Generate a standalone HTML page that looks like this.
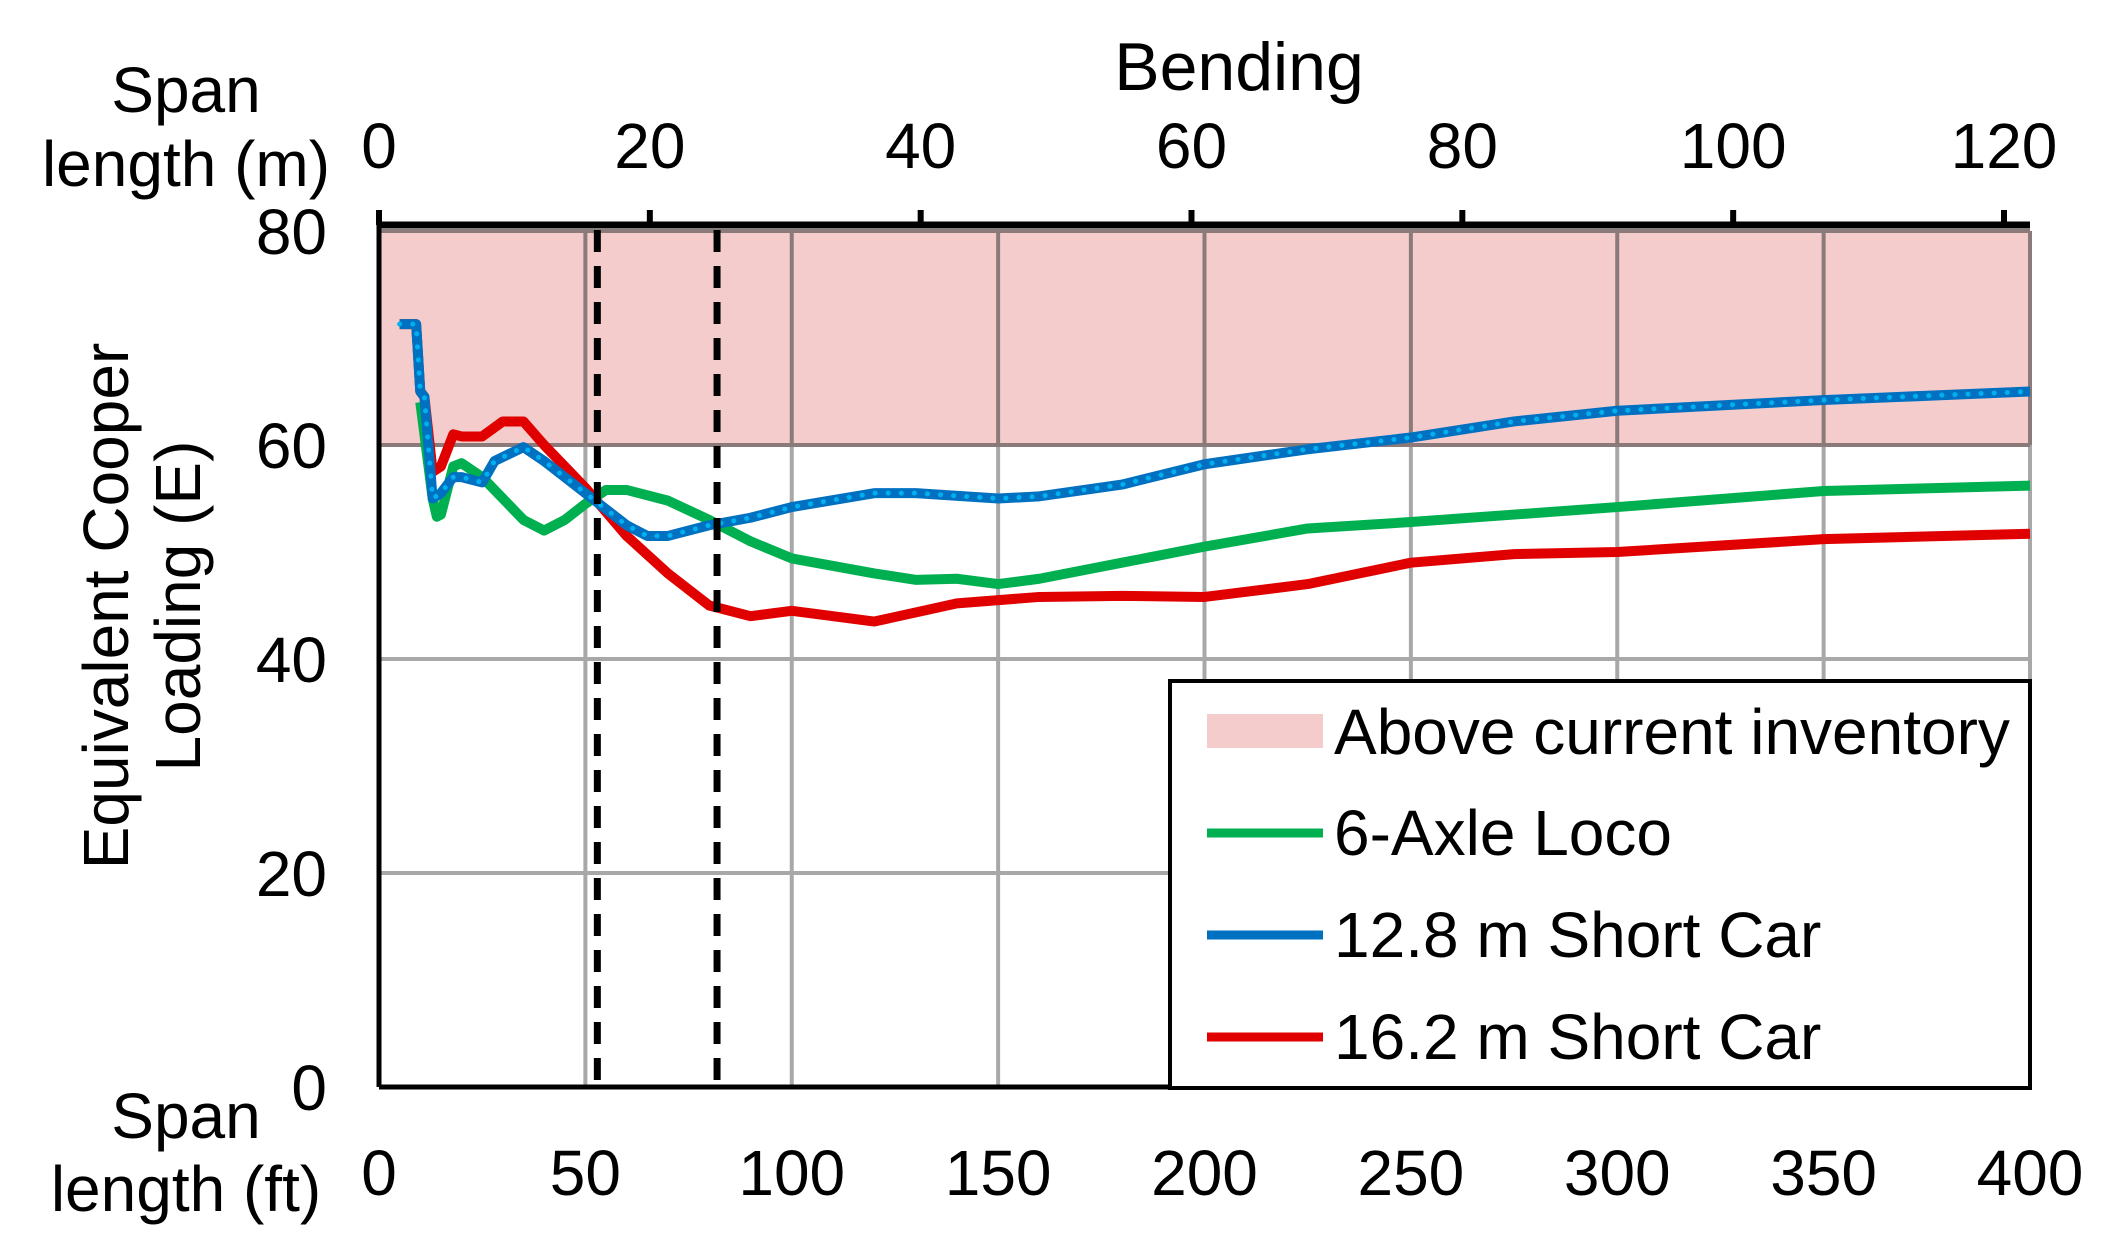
<!DOCTYPE html><html><head><meta charset="utf-8"><style>body{margin:0;background:#fff}svg{display:block}text{font-family:"Liberation Sans",sans-serif;fill:#000}</style></head><body>
<svg id="s" width="2123" height="1241" xmlns="http://www.w3.org/2000/svg"></svg>
<script>
const X=f=>379+f*4.1275, Y=v=>1087-v*10.7;
let h='';
h+=`<rect x="${X(0)}" y="${Y(80)}" width="${X(400)-X(0)}" height="${Y(60)-Y(80)}" fill="#f5cccc"/>`;
for(let f=50;f<=400;f+=50){h+=`<line x1="${X(f)}" y1="${Y(80)}" x2="${X(f)}" y2="${Y(60)}" stroke="#8a7a7a" stroke-width="4"/><line x1="${X(f)}" y1="${Y(60)}" x2="${X(f)}" y2="${Y(0)}" stroke="#a8a8a8" stroke-width="4"/>`;}
for(let v of [20,40,60,80])h+=`<line x1="${X(0)}" y1="${Y(v)}" x2="${X(400)}" y2="${Y(v)}" stroke="${v>=60?'#8a7a7a':'#a8a8a8'}" stroke-width="4"/>`;
h+=`<line x1="${X(0)}" y1="${Y(0)}" x2="${X(400)}" y2="${Y(0)}" stroke="#000" stroke-width="5"/>`;
h+=`<line x1="${X(0)}" y1="220" x2="${X(0)}" y2="${Y(0)}" stroke="#000" stroke-width="5"/>`;
h+=`<line x1="${X(0)}" y1="225" x2="${X(400)}" y2="225" stroke="#000" stroke-width="7"/>`;
for(let m=0;m<=120;m+=20){let x=X(m/0.3048);h+=`<line x1="${x}" y1="210" x2="${x}" y2="225" stroke="#000" stroke-width="6"/><text x="${x}" y="168" font-size="64" text-anchor="middle">${m}</text>`;}
for(let f=0;f<=400;f+=50)h+=`<text x="${X(f)}" y="1195" font-size="64" text-anchor="middle">${f}</text>`;
for(let v=0;v<=80;v+=20)h+=`<text x="327" y="${Y(v)+23}" font-size="64" text-anchor="end">${v}</text>`;
const P=(a,c,w,extra='')=>`<polyline points="${a.map(p=>X(p[0])+','+Y(p[1])).join(' ')}" fill="none" stroke="${c}" stroke-width="${w}" stroke-linejoin="round" ${extra}/>`;
const G=[[10,64],[13,55],[14,53.3],[15,53.5],[18,58],[20,58.3],[25,57],[30,55],[35,53],[40,52],[45,53],[50,54.5],[55,55.8],[60,55.8],[70,54.8],[80,53],[90,51],[100,49.4],[120,48],[130,47.4],[140,47.5],[150,47],[160,47.5],[180,49],[200,50.5],[225,52.2],[250,52.8],[275,53.5],[300,54.2],[350,55.7],[400,56.2]];
const st=[[5,71.3],[9,71.3],[10,65],[11,64.5]];
const R=st.concat([[13,57.5],[15,58],[18,61],[20,60.8],[25,60.8],[30,62.2],[35,62.2],[40,60],[50,56],[60,51.5],[70,48],[80,45],[90,44],[100,44.5],[120,43.5],[140,45.2],[160,45.8],[180,45.9],[200,45.8],[225,47],[250,49],[275,49.8],[300,50],[350,51.2],[400,51.7]]);
const B=st.concat([[13,55],[15,55.5],[18,57],[20,57],[25,56.5],[28,58.5],[35,59.8],[40,58.5],[50,55.5],[60,52.5],[65,51.5],[70,51.5],[80,52.5],[90,53.2],[100,54.2],[120,55.5],[130,55.5],[150,55],[160,55.2],[180,56.3],[200,58.2],[225,59.6],[250,60.7],[275,62.2],[300,63.2],[350,64.2],[400,65]]);
h+=P(G,'#00b050',10)+P(R,'#e00000',10)+P(B,'#0070c0',10)+P(B,'#00b0f0',5,'stroke-dasharray="0.1 13" stroke-linecap="round"');
for(let f of [52.9,81.9])h+=`<line x1="${X(f)}" y1="230" x2="${X(f)}" y2="${Y(0)}" stroke="#000" stroke-width="7" stroke-dasharray="22 14"/>`;
h+=`<rect x="1170" y="681" width="860" height="407" fill="#fff" stroke="#000" stroke-width="4"/>`;
h+=`<rect x="1207" y="714" width="116" height="34" fill="#f5cccc"/>`;
const L=[['Above current inventory',754],['6-Axle Loco',855,'#00b050'],['12.8 m Short Car',957,'#0070c0'],['16.2 m Short Car',1059,'#e00000']];
for(const [t,y,c] of L){if(c)h+=`<line x1="1207" y1="${y-22}" x2="1323" y2="${y-22}" stroke="${c}" stroke-width="9"/>`;h+=`<text x="1334" y="${y}" font-size="64">${t}</text>`;}
h+=`<text x="1239" y="90" font-size="68" text-anchor="middle">Bending</text>`;
h+=`<text x="186" y="112" font-size="64" text-anchor="middle">Span</text><text x="186" y="186" font-size="64" text-anchor="middle">length (m)</text>`;
h+=`<text x="186" y="1138" font-size="64" text-anchor="middle">Span</text><text x="186" y="1211" font-size="64" text-anchor="middle">length (ft)</text>`;
h+=`<g transform="translate(128,606) rotate(-90)"><text x="0" y="0" font-size="64" text-anchor="middle">Equivalent Cooper</text><text x="0" y="72" font-size="64" text-anchor="middle">Loading (E)</text></g>`;
document.getElementById('s').innerHTML=h;
</script></body></html>
